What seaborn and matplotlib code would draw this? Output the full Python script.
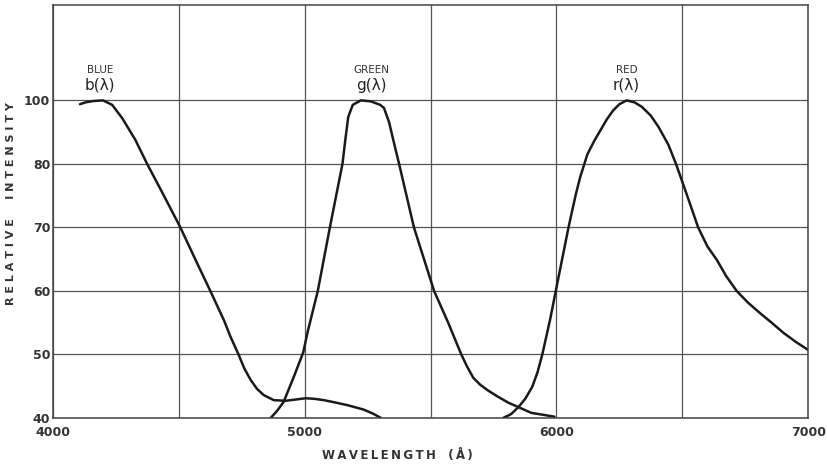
import numpy as np
import pandas as pd
import matplotlib
matplotlib.use("Agg")
import matplotlib.pyplot as plt
import seaborn as sns

# ---- data ----
blue_x = [4107, 4130, 4160, 4199, 4235, 4275, 4327, 4374, 4438, 4506, 4565, 4625, 4680,
          4705, 4737, 4760, 4785, 4810, 4837, 4877, 4924, 4965, 5004, 5040, 5076, 5125,
          5171, 5235, 5270, 5303]
blue_y = [98.8, 99.4, 99.8, 100, 98.6, 94.4, 87.6, 80, 75.2, 70, 65, 60, 55.3,
          52.8, 50, 47.8, 46, 44.6, 43.6, 42.8, 42.7, 42.9, 43.1, 43.0, 42.8, 42.4,
          42, 41.3, 40.7, 40]

green_x = [4865, 4890, 4916, 4956, 4994, 5012, 5052, 5100, 5150, 5162, 5173, 5191, 5223,
           5263, 5300, 5315, 5335, 5352, 5375, 5434, 5514, 5570, 5622, 5645, 5670, 5698,
           5729, 5765, 5809, 5900, 5992]
green_y = [40, 41.1, 42.5, 46.4, 50.3, 53.6, 60, 70, 80, 88, 94.8, 98.6, 100,
           99.7, 98.6, 97.6, 93.2, 87.5, 80, 70, 60, 55, 50, 48.1, 46.3, 45.2,
           44.3, 43.4, 42.4, 40.8, 40.2]

red_x = [5789, 5820, 5849, 5876, 5904, 5925, 5944, 5975, 6000, 6048, 6077, 6095, 6123,
         6150, 6175, 6200, 6225, 6250, 6279, 6310, 6339, 6375, 6406, 6445, 6475, 6500,
         6530, 6563, 6600, 6637, 6675, 6716, 6760, 6809, 6855, 6902, 6950, 7000]
red_y = [40, 40.6, 41.7, 43, 44.9, 47.2, 50, 55.5, 60.5, 70, 75.2, 78, 83,
         87.2, 90.6, 94, 96.8, 98.8, 100, 99.4, 98, 95.2, 91.6, 86, 80, 77.2,
         73.8, 70, 67, 64.9, 62.3, 60, 58.2, 56.5, 55, 53.4, 52, 50.7]

y_ticks = [40, 50, 60, 70, 80, 100]
x_ticks = [4000, 5000, 6000, 7000]
x_minor = [4500, 5500, 6500]

series_labels = [("BLUE", "b(λ)", 4187), ("GREEN", "g(λ)", 5263), ("RED", "r(λ)", 6279)]

# ---- figure ----
sns.set_style("white")
plt.rcParams['font.family'] = ['DejaVu Sans']

fig = plt.figure(figsize=(8.28, 4.68), dpi=100)
ax = fig.add_axes([0.064, 0.107, 0.912, 0.882])

# The original axis compresses the band above 80 by a factor of two
def fwd(v):
    v = np.asarray(v, dtype=float)
    return np.where(v <= 80, v, 80 + (v - 80) / 2)

def inv(p):
    p = np.asarray(p, dtype=float)
    return np.where(p <= 80, p, 80 + (p - 80) * 2)

ax.set_yscale('function', functions=(fwd, inv))

df = pd.concat([
    pd.DataFrame({"wl": blue_x, "val": blue_y, "s": "blue"}),
    pd.DataFrame({"wl": green_x, "val": green_y, "s": "green"}),
    pd.DataFrame({"wl": red_x, "val": red_y, "s": "red"}),
])
sns.lineplot(data=df, x="wl", y="val", units="s", estimator=None, sort=False,
             color="#1a1a1a", lw=1.8, ax=ax, legend=False)
for line in ax.get_lines():
    line.set_solid_joinstyle("round")
    line.set_solid_capstyle("round")

ax.set_xlim(4000, 7000)
ax.set_ylim(40, 130)
ax.set_xticks(x_ticks)
ax.set_xticks(x_minor, minor=True)
ax.set_yticks(y_ticks)
ax.yaxis.set_minor_locator(matplotlib.ticker.NullLocator())
ax.set_xticklabels([str(t) for t in x_ticks], fontsize=9, fontweight="bold", color="#333333")
ax.set_yticklabels([str(t) for t in y_ticks], fontsize=9, fontweight="bold", color="#333333")
ax.tick_params(axis="both", which="both", length=0)
ax.tick_params(axis="x", pad=6)
ax.tick_params(axis="y", pad=2)

ax.grid(True, which="both", color="#555555", lw=0.9)
for s in ax.spines.values():
    s.set_color("#444444")
    s.set_linewidth(1.1)

ts = "\u2009"
ax.set_xlabel(ts.join("WAVELENGTH") + "   (" + ts + "Å" + ts + ")", fontsize=8.5,
              fontweight="bold", color="#333333")
ax.xaxis.set_label_coords(0.456, -0.075)
ax.set_ylabel("R E L A T I V E     I N T E N S I T Y", fontsize=8, fontweight="bold",
              color="#333333")
ax.yaxis.set_label_coords(-0.049, 0.52)

for name, sym, xpos in series_labels:
    ax.text(xpos, 109.5, name, ha="center", va="center", fontsize=7.5, color="#333333")
    ax.text(xpos, 104.8, sym, ha="center", va="center", fontsize=11, color="#222222")

fig.savefig("out.png", dpi=100, facecolor="white")
